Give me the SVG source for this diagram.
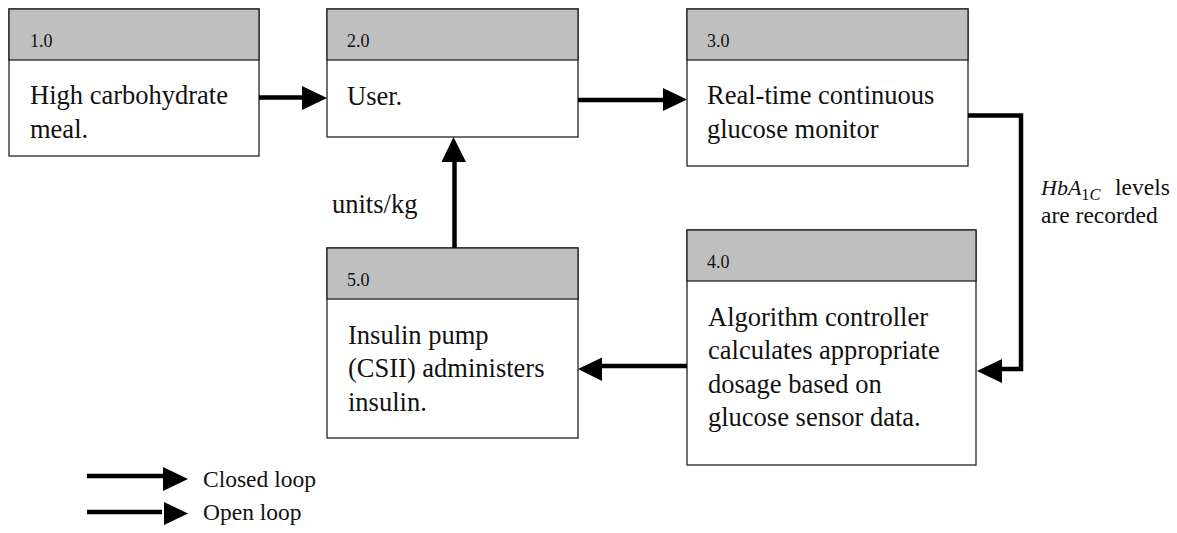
<svg xmlns="http://www.w3.org/2000/svg" width="1177" height="533" viewBox="0 0 1177 533">
  <style>
    .box { fill: #ffffff; stroke: #222222; stroke-width: 1.3; }
    .hdr { fill: #bfbfbf; stroke: #222222; stroke-width: 1.3; }
    .num { font-family: "Liberation Serif", "Times New Roman", serif; font-size: 18px; fill: #111111; }
    .txt { font-family: "Liberation Serif", "Times New Roman", serif; font-size: 26.5px; fill: #111111; }
    .lbl { font-family: "Liberation Serif", "Times New Roman", serif; font-size: 23.5px; fill: #111111; }
    .math { font-family: "Liberation Serif", "Times New Roman", serif; font-style: italic; }
    .wire { fill: none; stroke: #000000; stroke-width: 4.5; }
    .head { fill: #000000; }
  </style>

  <!-- process boxes: grey numbered header band over a white body -->
  <g id="node-1">
    <rect class="box" x="9" y="9" width="250" height="147"/>
    <rect class="hdr" x="9" y="9" width="250" height="51"/>
    <text class="num" x="30" y="47">1.0</text>
    <text class="txt" x="30" y="104">High carbohydrate</text>
    <text class="txt" x="30" y="138">meal.</text>
  </g>

  <g id="node-2">
    <rect class="box" x="327" y="9" width="251" height="128"/>
    <rect class="hdr" x="327" y="9" width="251" height="51"/>
    <text class="num" x="347" y="47">2.0</text>
    <text class="txt" x="347" y="105">User.</text>
  </g>

  <g id="node-3">
    <rect class="box" x="687" y="9" width="281" height="157"/>
    <rect class="hdr" x="687" y="9" width="281" height="51"/>
    <text class="num" x="707" y="47">3.0</text>
    <text class="txt" x="707" y="104">Real-time continuous</text>
    <text class="txt" x="707" y="138">glucose monitor</text>
  </g>

  <g id="node-4">
    <rect class="box" x="687" y="230" width="289" height="235"/>
    <rect class="hdr" x="687" y="230" width="289" height="51"/>
    <text class="num" x="707" y="268">4.0</text>
    <text class="txt" x="708" y="326">Algorithm controller</text>
    <text class="txt" x="708" y="359">calculates appropriate</text>
    <text class="txt" x="708" y="393">dosage based on</text>
    <text class="txt" x="708" y="426">glucose sensor data.</text>
  </g>

  <g id="node-5">
    <rect class="box" x="327" y="248" width="251" height="190"/>
    <rect class="hdr" x="327" y="248" width="251" height="51"/>
    <text class="num" x="347" y="286">5.0</text>
    <text class="txt" x="348" y="344">Insulin pump</text>
    <text class="txt" x="348" y="377">(CSII) administers</text>
    <text class="txt" x="348" y="411">insulin.</text>
  </g>

  <!-- connectors: thick shafts with solid triangular heads -->
  <g id="connectors">
    <line class="wire" x1="259" y1="97.5" x2="303" y2="97.5"/>
    <polygon class="head" points="302,86 327,98 302,110"/>

    <line class="wire" x1="578" y1="100" x2="664" y2="100"/>
    <polygon class="head" points="663,88 687,99.5 663,111"/>

    <polyline class="wire" points="968,115.5 1021,115.5 1021,369 1001,369"/>
    <polygon class="head" points="1002,359 977,371 1002,383"/>

    <line class="wire" x1="687" y1="366" x2="601" y2="366"/>
    <polygon class="head" points="602,357.5 578,369 602,381"/>

    <line class="wire" x1="454.5" y1="248" x2="454.5" y2="161"/>
    <polygon class="head" points="441.5,162 453.5,137 466,162"/>

    <text class="txt" x="332" y="213">units/kg</text>

    <!-- HbA1C label: italic math symbol with a lowered subscript -->
    <text class="lbl" x="1041" y="195"><tspan class="math" font-size="22px">HbA</tspan><tspan dy="5" font-size="16.5px">1</tspan><tspan class="math" font-size="16.5px">C</tspan><tspan x="1115" dy="-5">levels</tspan></text>
    <text class="lbl" x="1041" y="223">are recorded</text>
  </g>

  <!-- legend -->
  <g id="legend">
    <line class="wire" x1="87" y1="476" x2="164" y2="476"/>
    <polygon class="head" points="163,467 188,479 163,491"/>
    <text class="lbl" x="203" y="487">Closed loop</text>

    <line class="wire" x1="87" y1="512" x2="162" y2="512"/>
    <polygon class="head" points="164,502 188,513.5 164,525"/>
    <text class="lbl" x="203" y="520">Open loop</text>
  </g>
</svg>
